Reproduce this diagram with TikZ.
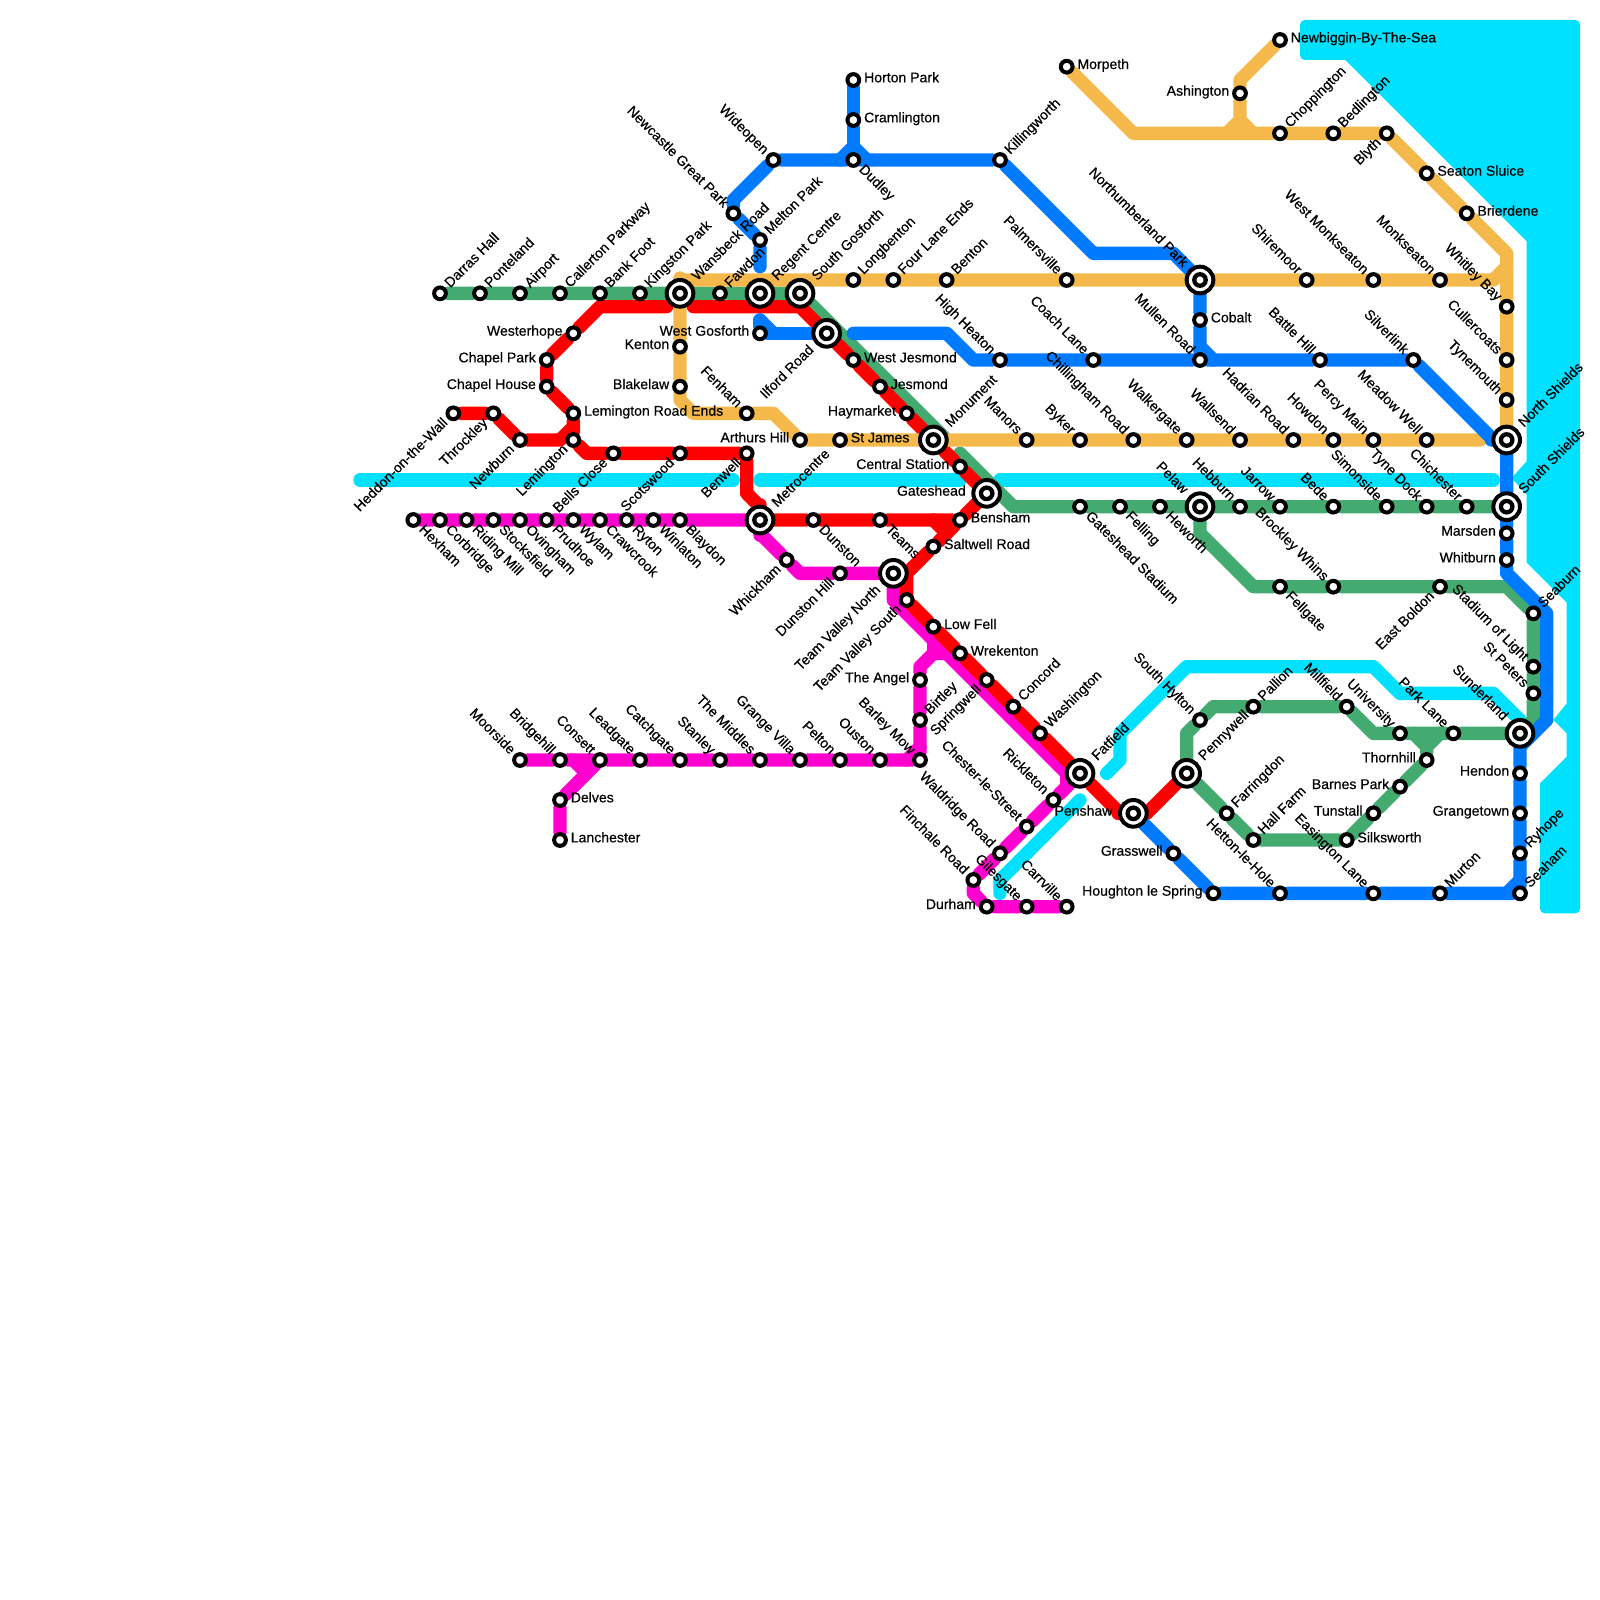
\documentclass[tikz,border=0pt]{standalone}
\usepackage{fontspec}
\usepackage{xcolor}
\usetikzlibrary{backgrounds}
\newfontfamily\lblfont{Liberation Sans}[FakeBold=0.5]
\definecolor{MetroRed}{HTML}{FF0000}
\definecolor{MetroBlue}{HTML}{007AFF}
\definecolor{MetroGreen}{HTML}{43AB6F}
\definecolor{MetroOrange}{HTML}{F4B94A}
\definecolor{MetroPink}{HTML}{FF00CE}
\definecolor{MetroCyan}{HTML}{00E0FF}
\tikzset{
  stn/.style={circle, draw=black, fill=white, line width=.3cm, minimum size=.88cm, inner sep=0pt},
  hub/.style={stn, minimum size=2cm, path picture={\draw[line width=.32cm] (path picture bounding box.center) circle (.43cm);}},
  lbl/.style={font=\fontsize{30}{32}\lblfont, text=black, fill=none, draw=none, line width=0pt, text height=.75cm, text depth=.2cm, inner sep=0pt, outer sep=.22cm, minimum size=0pt},
  hlbl/.style={lbl, outer sep=.42cm},
  lE/.style={label={[lbl, anchor=west, yshift=.1cm]0:#1}},
  lW/.style={label={[lbl, anchor=east, yshift=.1cm]180:#1}},
  lNE/.style={label={[lbl, anchor=west, rotate=45]45:#1}},
  lSW/.style={label={[lbl, anchor=east, rotate=45]225:#1}},
  lNW/.style={label={[lbl, anchor=east, rotate=-45]135:#1}},
  lSE/.style={label={[lbl, anchor=west, rotate=-45]315:#1}},
  hW/.style={label={[hlbl, anchor=east, yshift=.1cm]180:#1}},
  hNE/.style={label={[hlbl, anchor=west, rotate=45]45:#1}},
  hSW/.style={label={[hlbl, anchor=east, rotate=45]225:#1}},
  hNW/.style={label={[hlbl, anchor=east, rotate=-45]135:#1}},
  metro/.style={line width=1cm, line cap=round, line join=round},
  redline/.style={metro, MetroRed},
  blueline/.style={metro, MetroBlue},
  greenline/.style={metro, MetroGreen},
  orangeline/.style={metro, MetroOrange},
  pinkline/.style={metro, MetroPink},
  cyanline/.style={metro, MetroCyan}
}
\begin{document}
\begin{tikzpicture}[x=1cm, y=-1cm]
  \useasboundingbox (0,0) rectangle (120,120);

  % west end
  \node[stn, lNE={Darras Hall}] (darras) at (33,22) {};
  \node[stn, lNE={Ponteland}] (ponteland) at (36,22) {};
  \node[stn, lNE={Airport}] (airport) at (39,22) {};
  \node[stn, lNE={Callerton Parkway}] (callerton) at (42,22) {};
  \node[stn, lNE={Bank Foot}] (bankfoot) at (45,22) {};
  \node[stn, lNE={Kingston Park}] (kingston) at (48,22) {};
  \node[hub, hNE={Wansbeck Road}] (wansbeck) at (51,22) {};
  \node[stn, lNE={Fawdon}] (fawdon) at (54,22) {};
  \node[hub, hNE={Regent Centre}] (regent) at (57,22) {};
  \node[hub, hNE={South Gosforth}] (gosforth) at (60,22) {};
  \node[stn, lW={Westerhope}] (westerhope) at (43,25) {};
  \node[stn, lW={Chapel Park}] (chapelpark) at (41,27) {};
  \node[stn, lW={Chapel House}] (chapelhouse) at (41,29) {};
  \node[stn, lE={Lemington Road Ends}] (lemroad) at (43,31) {};
  \node[stn, lSW={Lemington}] (lemington) at (43,33) {};
  \node[stn, lSW={Newburn}] (newburn) at (39,33) {};
  \node[stn, lSW={Throckley}] (throckley) at (37,31) {};
  \node[stn, lSW={Heddon-on-the-Wall}] (heddon) at (34,31) {};
  \node[stn, lSW={Bells Close}] (bells) at (46,34) {};
  \node[stn, lSW={Scotswood}] (scotswood) at (51,34) {};
  \node[stn, lSW={Benwell}] (benwell) at (56,34) {};
  \node[stn, lW={Arthurs Hill}] (arthurs) at (60,33) {};
  \node[stn, lNW={Fenham}] (fenham) at (56,31) {};
  \node[stn, lW={Blakelaw}] (blakelaw) at (51,29) {};
  \node[stn, lW={Kenton}] (kenton) at (51,26) {};
  \node[stn, lW={West Gosforth}] (westgos) at (57,25) {};
  \node[hub, hSW={Ilford Road}] (ilford) at (62,25) {};
  \node[stn, lNE={Melton Park}] (melton) at (57,18) {};
  \node[stn, lNW={Newcastle Great Park}] (greatpark) at (55,16) {};
  \node[stn, lNW={Wideopen}] (wideopen) at (58,12) {};
  \node[hub, hNE={Metrocentre}] (metrocentre) at (57,39) {};
  \node[stn, lSE={Hexham}] (hexham) at (31,39) {};
  \node[stn, lSE={Corbridge}] (corbridge) at (33,39) {};
  \node[stn, lSE={Riding Mill}] (ridingmill) at (35,39) {};
  \node[stn, lSE={Stocksfield}] (stocksfield) at (37,39) {};
  \node[stn, lSE={Ovingham}] (ovingham) at (39,39) {};
  \node[stn, lSE={Prudhoe}] (prudhoe) at (41,39) {};
  \node[stn, lSE={Wylam}] (wylam) at (43,39) {};
  \node[stn, lSE={Crawcrook}] (crawcrook) at (45,39) {};
  \node[stn, lSE={Ryton}] (ryton) at (47,39) {};
  \node[stn, lSE={Winlaton}] (winlaton) at (49,39) {};
  \node[stn, lSE={Blaydon}] (blaydon) at (51,39) {};

  % south west
  \node[stn, lNW={Moorside}] (moorside) at (39,57) {};
  \node[stn, lNW={Bridgehill}] (bridgehill) at (42,57) {};
  \node[stn, lNW={Consett}] (consett) at (45,57) {};
  \node[stn, lNW={Leadgate}] (leadgate) at (48,57) {};
  \node[stn, lNW={Catchgate}] (catchgate) at (51,57) {};
  \node[stn, lNW={Stanley}] (stanley) at (54,57) {};
  \node[stn, lNW={The Middles}] (middles) at (57,57) {};
  \node[stn, lNW={Grange Villa}] (grange) at (60,57) {};
  \node[stn, lNW={Pelton}] (pelton) at (63,57) {};
  \node[stn, lNW={Ouston}] (ouston) at (66,57) {};
  \node[stn, lNW={Barley Mow}] (barleymow) at (69,57) {};
  \node[stn, lE={Delves}] (delves) at (42,60) {};
  \node[stn, lE={Lanchester}] (lanchester) at (42,63) {};
  \node[stn, lSW={Whickham}] (whickham) at (59,42) {};
  \node[stn, lSE={Dunston}] (dunston) at (61,39) {};
  \node[stn, lSE={Teams}] (teams) at (66,39) {};
  \node[stn, lSW={Dunston Hill}] (dunstonhill) at (63,43) {};
  \node[hub, hSW={Team Valley North}] (tvnorth) at (67,43) {};
  \node[stn, lSW={Team Valley South}] (tvsouth) at (68,45) {};
  \node[stn, lE={Low Fell}] (lowfell) at (70,47) {};
  \node[stn, lE={Wrekenton}] (wrekenton) at (72,49) {};
  \node[stn, lSW={Springwell}] (springwell) at (74,51) {};
  \node[stn, lNE={Concord}] (concord) at (76,53) {};
  \node[stn, lNE={Washington}] (washington) at (78,55) {};
  \node[hub, hNE={Fatfield}] (fatfield) at (81,58) {};
  \node[hub, hW={Penshaw}] (penshaw) at (85,61) {};
  \node[stn, lNW={Rickleton}] (rickleton) at (79,60) {};
  \node[stn, lNW={Chester-le-Street}] (chester) at (77,62) {};
  \node[stn, lNW={Waldridge Road}] (waldridge) at (75,64) {};
  \node[stn, lNW={Finchale Road}] (finchale) at (73,66) {};
  \node[stn, lW={Durham}] (durham) at (74,68) {};
  \node[stn, lNW={Gilesgate}] (gilesgate) at (77,68) {};
  \node[stn, lNW={Carrville}] (carrville) at (80,68) {};
  \node[stn, lW={The Angel}] (angel) at (69,51) {};
  \node[stn, lNE={Birtley}] (birtley) at (69,54) {};

  % centre
  \node[stn, lE={West Jesmond}] (westjes) at (64,27) {};
  \node[stn, lE={Jesmond}] (jesmond) at (66,29) {};
  \node[stn, lW={Haymarket}] (haymarket) at (68,31) {};
  \node[hub, hNE={Monument}] (monument) at (70,33) {};
  \node[stn, lW={Central Station}] (central) at (72,35) {};
  \node[hub, hW={Gateshead}] (gateshead) at (74,37) {};
  \node[stn, lE={Bensham}] (bensham) at (72,39) {};
  \node[stn, lE={Saltwell Road}] (saltwell) at (70,41) {};
  \node[stn, lE={St James}] (stjames) at (63,33) {};
  \node[stn, lE={Horton Park}] (horton) at (64,6) {};
  \node[stn, lE={Cramlington}] (cramlington) at (64,9) {};
  \node[stn, lSE={Dudley}] (dudley) at (64,12) {};
  \node[stn, lNE={Killingworth}] (killingworth) at (75,12) {};
  \node[stn, lNE={Longbenton}] (longbenton) at (64,21) {};
  \node[stn, lNE={Four Lane Ends}] (fourlane) at (67,21) {};
  \node[stn, lNE={Benton}] (benton) at (71,21) {};
  \node[stn, lNW={Palmersville}] (palmersville) at (80,21) {};
  \node[hub, hNW={Northumberland Park}] (northumb) at (90,21) {};
  \node[stn, lE={Cobalt}] (cobalt) at (90,24) {};
  \node[stn, lNW={High Heaton}] (highheaton) at (75,27) {};
  \node[stn, lNW={Coach Lane}] (coachlane) at (82,27) {};
  \node[stn, lNW={Mullen Road}] (mullen) at (90,27) {};
  \node[stn, lNW={Manors}] (manors) at (77,33) {};
  \node[stn, lNW={Byker}] (byker) at (81,33) {};
  \node[stn, lNW={Chillingham Road}] (chillingham) at (85,33) {};
  \node[stn, lNW={Walkergate}] (walkergate) at (89,33) {};
  \node[stn, lNW={Wallsend}] (wallsend) at (93,33) {};
  \node[stn, lSE={Gateshead Stadium}] (gsstadium) at (81,38) {};
  \node[stn, lSE={Felling}] (felling) at (84,38) {};
  \node[stn, lSE={Heworth}] (heworth) at (87,38) {};
  \node[hub, hNW={Pelaw}] (pelaw) at (90,38) {};
  \node[stn, lNW={Hebburn}] (hebburn) at (93,38) {};

  % north east
  \node[stn, lE={Morpeth}] (morpeth) at (80,5) {};
  \node[stn, lW={Ashington}] (ashington) at (93,7) {};
  \node[stn, lE={Newbiggin-By-The-Sea}] (newbiggin) at (96,3) {};
  \node[stn, lNE={Choppington}] (choppington) at (96,10) {};
  \node[stn, lNE={Bedlington}] (bedlington) at (100,10) {};
  \node[stn, lSW={Blyth}] (blyth) at (104,10) {};
  \node[stn, lE={Seaton Sluice}] (seaton) at (107,13) {};
  \node[stn, lE={Brierdene}] (brierdene) at (110,16) {};
  \node[stn, lNW={Shiremoor}] (shiremoor) at (98,21) {};
  \node[stn, lNW={West Monkseaton}] (westmonk) at (103,21) {};
  \node[stn, lNW={Monkseaton}] (monkseaton) at (108,21) {};
  \node[stn, lNW={Whitley Bay}] (whitley) at (113,23) {};
  \node[stn, lNW={Cullercoats}] (cullercoats) at (113,27) {};
  \node[stn, lNW={Tynemouth}] (tynemouth) at (113,30) {};
  \node[hub, hNE={North Shields}] (northshields) at (113,33) {};
  \node[stn, lNW={Battle Hill}] (battlehill) at (99,27) {};
  \node[stn, lNW={Silverlink}] (silverlink) at (106,27) {};
  \node[stn, lNW={Hadrian Road}] (hadrian) at (97,33) {};
  \node[stn, lNW={Howdon}] (howdon) at (100,33) {};
  \node[stn, lNW={Percy Main}] (percy) at (103,33) {};
  \node[stn, lNW={Meadow Well}] (meadow) at (107,33) {};
  \node[stn, lNW={Jarrow}] (jarrow) at (96,38) {};
  \node[stn, lNW={Bede}] (bede) at (100,38) {};
  \node[stn, lNW={Simonside}] (simonside) at (104,38) {};
  \node[stn, lNW={Tyne Dock}] (tynedock) at (107,38) {};
  \node[stn, lNW={Chichester}] (chichester) at (110,38) {};
  \node[hub, hNE={South Shields}] (southshields) at (113,38) {};

  % south east
  \node[stn, lW={Marsden}] (marsden) at (113,40) {};
  \node[stn, lW={Whitburn}] (whitburn) at (113,42) {};
  \node[stn, lSE={Fellgate}] (fellgate) at (96,44) {};
  \node[stn, lNW={Brockley Whins}] (brockley) at (100,44) {};
  \node[stn, lSW={East Boldon}] (eastboldon) at (108,44) {};
  \node[stn, lNE={Seaburn}] (seaburn) at (115,46) {};
  \node[stn, lNW={Stadium of Light}] (stadium) at (115,50) {};
  \node[stn, lNW={St Peters}] (stpeters) at (115,52) {};
  \node[hub, hNW={Sunderland}] (sunderland) at (114,55) {};
  \node[stn, lNW={Park Lane}] (parklane) at (109,55) {};
  \node[stn, lNW={University}] (university) at (105,55) {};
  \node[stn, lNW={Millfield}] (millfield) at (101,53) {};
  \node[stn, lNE={Pallion}] (pallion) at (94,53) {};
  \node[stn, lNW={South Hylton}] (southhylton) at (90,54) {};
  \node[hub, hNE={Pennywell}] (pennywell) at (89,58) {};
  \node[stn, lNE={Farringdon}] (farringdon) at (92,61) {};
  \node[stn, lNE={Hall Farm}] (hallfarm) at (94,63) {};
  \node[stn, lE={Silksworth}] (silksworth) at (101,63) {};
  \node[stn, lW={Tunstall}] (tunstall) at (103,61) {};
  \node[stn, lW={Barnes Park}] (barnespark) at (105,59) {};
  \node[stn, lW={Thornhill}] (thornhill) at (107,57) {};
  \node[stn, lW={Hendon}] (hendon) at (114,58) {};
  \node[stn, lW={Grangetown}] (grangetown) at (114,61) {};
  \node[stn, lNE={Ryhope}] (ryhope) at (114,64) {};
  \node[stn, lNE={Seaham}] (seaham) at (114,67) {};
  \node[stn, lNE={Murton}] (murton) at (108,67) {};
  \node[stn, lNW={Easington Lane}] (easington) at (103,67) {};
  \node[stn, lNW={Hetton-le-Hole}] (hetton) at (96,67) {};
  \node[stn, lW={Houghton le Spring}] (houghton) at (91,67) {};
  \node[stn, lW={Grasswell}] (grasswell) at (88,64) {};

  % bends and line ends
  \coordinate (redA) at (50,23);
  \coordinate (redB) at (45,23);
  \coordinate (redC) at (52,23);
  \coordinate (redD) at (60,23);
  \coordinate (redE) at (44,34);
  \coordinate (redF) at (42,33);
  \coordinate (redG) at (43,32);
  \coordinate (redH) at (56,37);
  \coordinate (redI) at (57,38);
  \coordinate (redJ) at (70,39);
  \coordinate (redK) at (71,40);
  \coordinate (redL) at (68,43);
  \coordinate (redM) at (68,45);
  \coordinate (redN) at (84,61);
  \coordinate (redO) at (86,61);
  \coordinate (orangeA) at (51,21);
  \coordinate (orangeB) at (112,21);
  \coordinate (orangeC) at (113,20);
  \coordinate (orangeD) at (85,10);
  \coordinate (orangeE) at (113,19);
  \coordinate (orangeF) at (93,6);
  \coordinate (orangeG) at (93,9);
  \coordinate (orangeH) at (92,10);
  \coordinate (orangeI) at (94,10);
  \coordinate (orangeJ) at (51,30);
  \coordinate (orangeK) at (52,31);
  \coordinate (orangeL) at (58,31);
  \coordinate (orangeM) at (111,33);
  \coordinate (greenA) at (71,33);
  \coordinate (greenB) at (72,34);
  \coordinate (greenC) at (76,38);
  \coordinate (greenD) at (90,40);
  \coordinate (greenE) at (94,44);
  \coordinate (greenF) at (113,44);
  \coordinate (greenG) at (115,54);
  \coordinate (greenH) at (108,55);
  \coordinate (greenI) at (103,55);
  \coordinate (greenJ) at (91,53);
  \coordinate (greenK) at (89,55);
  \coordinate (greenL) at (107,56);
  \coordinate (greenM) at (106,55);
  \coordinate (pinkA) at (57,40);
  \coordinate (pinkB) at (60,43);
  \coordinate (pinkC) at (67,45);
  \coordinate (pinkD) at (80,58);
  \coordinate (pinkE) at (80,59);
  \coordinate (pinkF) at (73,67);
  \coordinate (pinkG) at (69,50);
  \coordinate (pinkH) at (70,49);
  \coordinate (pinkI) at (71,49);
  \coordinate (pinkJ) at (70,48);
  \coordinate (pinkK) at (43,57);
  \coordinate (pinkL) at (44,58);
  \coordinate (pinkM) at (68,57);
  \coordinate (pinkN) at (69,56);
  \coordinate (blueA) at (57,20);
  \coordinate (blueB) at (55,15);
  \coordinate (blueC) at (63,12);
  \coordinate (blueD) at (64,11);
  \coordinate (blueE) at (65,12);
  \coordinate (blueF) at (82,19);
  \coordinate (blueG) at (88,19);
  \coordinate (blueH) at (90,26);
  \coordinate (blueI) at (91,27);
  \coordinate (blueJ) at (112,33);
  \coordinate (blueK) at (113,43);
  \coordinate (blueL) at (116,46);
  \coordinate (blueM) at (116,54);
  \coordinate (blueN) at (114,56);
  \coordinate (blueO) at (114,66);
  \coordinate (blueP) at (113,67);
  \coordinate (blueQ) at (57,24);
  \coordinate (blueR) at (58,25);
  \coordinate (blueS) at (64,25);
  \coordinate (blueT) at (71,25);
  \coordinate (blueU) at (73,27);
  \coordinate (cyanA) at (27,36);
  \coordinate (cyanB) at (55,36);
  \coordinate (cyanC) at (57,36);
  \coordinate (cyanD) at (72,36);
  \coordinate (cyanE) at (75,36);
  \coordinate (cyanF) at (112,36);
  \coordinate (cyanG) at (83,58);
  \coordinate (cyanH) at (84,57);
  \coordinate (cyanI) at (84,55);
  \coordinate (cyanJ) at (89,50);
  \coordinate (cyanK) at (103,50);
  \coordinate (cyanL) at (105,52);
  \coordinate (cyanM) at (112,52);
  \coordinate (cyanN) at (114,54);
  \coordinate (cyanO) at (81,60);
  \coordinate (cyanP) at (75,66);
  \coordinate (cyanQ) at (75,67);

  \begin{scope}[on background layer]
    % sea
    \fill[MetroCyan] [rounded corners=.35cm] (97.5,1.5) -- (118.5,1.5) -- (118.5,68.5) -- (115.5,68.5) [sharp corners] -- (115.5,58.75) -- (117.5,56.75) -- (117.5,55) -- (116.5,54) -- (117.5,52.75) -- (117.5,45.2) -- (114.5,42.2) -- (114.5,37.1) -- (113.5,36) -- (113.5,35.7) -- (114.5,34.6) -- (114.5,18.1) -- (100.9,4.5) [rounded corners=.35cm] -- (97.5,4.5) -- cycle;

    \draw[cyanline] (cyanA) -- (cyanB);
    \draw[cyanline] (cyanC) -- (cyanD);
    \draw[cyanline] (cyanE) -- (cyanF);
    \draw[cyanline] (cyanG) -- (cyanH) -- (cyanI) -- (cyanJ) -- (cyanK) -- (cyanL) -- (cyanM) -- (cyanN);
    \draw[cyanline] (cyanO) -- (cyanP) -- (cyanQ);

    \draw[pinkline] (hexham) -- (corbridge) -- (ridingmill) -- (stocksfield) -- (ovingham) -- (prudhoe) -- (wylam) -- (crawcrook) -- (ryton) -- (winlaton) -- (blaydon) -- (metrocentre) -- (pinkA) -- (whickham) -- (pinkB) -- (dunstonhill) -- (tvnorth) -- (pinkC) -- (pinkD) -- (pinkE);
    \draw[pinkline] (fatfield) -- (rickleton) -- (chester) -- (waldridge) -- (finchale) -- (pinkF) -- (durham) -- (gilesgate) -- (carrville);
    \draw[pinkline] (moorside) -- (bridgehill) -- (consett) -- (leadgate) -- (catchgate) -- (stanley) -- (middles) -- (grange) -- (pelton) -- (ouston) -- (barleymow) -- (birtley) -- (angel) -- (pinkG) -- (pinkH) -- (pinkI);
    \draw[pinkline] (pinkJ) -- (pinkH);
    \draw[pinkline] (lanchester) -- (delves) -- (consett);
    \draw[pinkline] (pinkK) -- (pinkL);
    \draw[pinkline] (pinkM) -- (pinkN);

    \draw[greenline] (darras) -- (ponteland) -- (airport) -- (callerton) -- (bankfoot) -- (kingston) -- (wansbeck) -- (fawdon) -- (regent) -- (gosforth) -- (greenA);
    \draw[greenline] (greenB) -- (greenC) -- (gsstadium) -- (felling) -- (heworth) -- (pelaw) -- (hebburn) -- (jarrow) -- (bede) -- (simonside) -- (tynedock) -- (chichester) -- (southshields);
    \draw[greenline] (pelaw) -- (greenD) -- (greenE) -- (fellgate) -- (brockley) -- (eastboldon) -- (greenF) -- (seaburn) -- (stadium) -- (stpeters) -- (greenG) -- (sunderland);
    \draw[greenline] (sunderland) -- (parklane) -- (university) -- (greenI) -- (millfield) -- (pallion) -- (greenJ) -- (southhylton) -- (greenK) -- (pennywell) -- (farringdon) -- (hallfarm) -- (silksworth) -- (tunstall) -- (barnespark) -- (thornhill) -- (greenL);
    \draw[greenline] (greenH) -- (greenL) -- (greenM);

    \draw[redline] (heddon) -- (throckley) -- (newburn) -- (redF) -- (redG);
    \draw[redline] (redA) -- (redB) -- (westerhope) -- (chapelpark) -- (chapelhouse) -- (lemroad) -- (lemington) -- (redE) -- (bells) -- (scotswood) -- (benwell) -- (redH) -- (redI) -- (metrocentre) -- (dunston) -- (teams) -- (bensham);
    \draw[redline] (redJ) -- (redK);
    \draw[redline] (redC) -- (redD) -- (ilford) -- (westjes) -- (jesmond) -- (haymarket) -- (monument) -- (central) -- (gateshead) -- (bensham) -- (saltwell) -- (redL) -- (redM) -- (tvsouth) -- (lowfell) -- (wrekenton) -- (springwell) -- (concord) -- (washington) -- (fatfield) -- (redN) -- (penshaw);
    \draw[redline] (redO) -- (pennywell);

    \draw[orangeline] (orangeA) -- (longbenton) -- (fourlane) -- (benton) -- (palmersville) -- (northumb) -- (shiremoor) -- (westmonk) -- (monkseaton) -- (orangeB) -- (orangeC);
    \draw[orangeline] (morpeth) -- (orangeD) -- (choppington) -- (bedlington) -- (blyth) -- (seaton) -- (brierdene) -- (orangeE) -- (whitley) -- (cullercoats) -- (tynemouth) -- (northshields);
    \draw[orangeline] (newbiggin) -- (orangeF) -- (ashington) -- (orangeG) -- (orangeH);
    \draw[orangeline] (orangeG) -- (orangeI);
    \draw[orangeline] (orangeA) -- (wansbeck) -- (kenton) -- (blakelaw) -- (orangeJ) -- (orangeK) -- (fenham) -- (orangeL) -- (arthurs) -- (stjames) -- (monument) -- (manors) -- (byker) -- (chillingham) -- (walkergate) -- (wallsend) -- (hadrian) -- (howdon) -- (percy) -- (meadow) -- (orangeM);

    \draw[blueline] (blueA) -- (melton) -- (greatpark) -- (blueB) -- (wideopen) -- (blueC) -- (dudley) -- (killingworth) -- (blueF) -- (blueG) -- (northumb) -- (cobalt) -- (mullen) -- (battlehill) -- (silverlink) -- (blueJ) -- (northshields) -- (southshields) -- (marsden) -- (whitburn) -- (blueK) -- (blueL) -- (blueM) -- (blueN) -- (hendon) -- (grangetown) -- (ryhope) -- (seaham) -- (murton) -- (easington) -- (hetton) -- (houghton) -- (grasswell) -- (penshaw);
    \draw[blueline] (horton) -- (cramlington) -- (blueD);
    \draw[blueline] (blueC) -- (blueD) -- (blueE);
    \draw[blueline] (blueH) -- (blueI);
    \draw[blueline] (blueO) -- (blueP);
    \draw[blueline] (blueQ) -- (westgos) -- (ilford);
    \draw[blueline] (blueQ) -- (blueR);
    \draw[blueline] (blueS) -- (blueT) -- (blueU) -- (highheaton) -- (coachlane) -- (mullen);
  \end{scope}
\end{tikzpicture}
\end{document}
